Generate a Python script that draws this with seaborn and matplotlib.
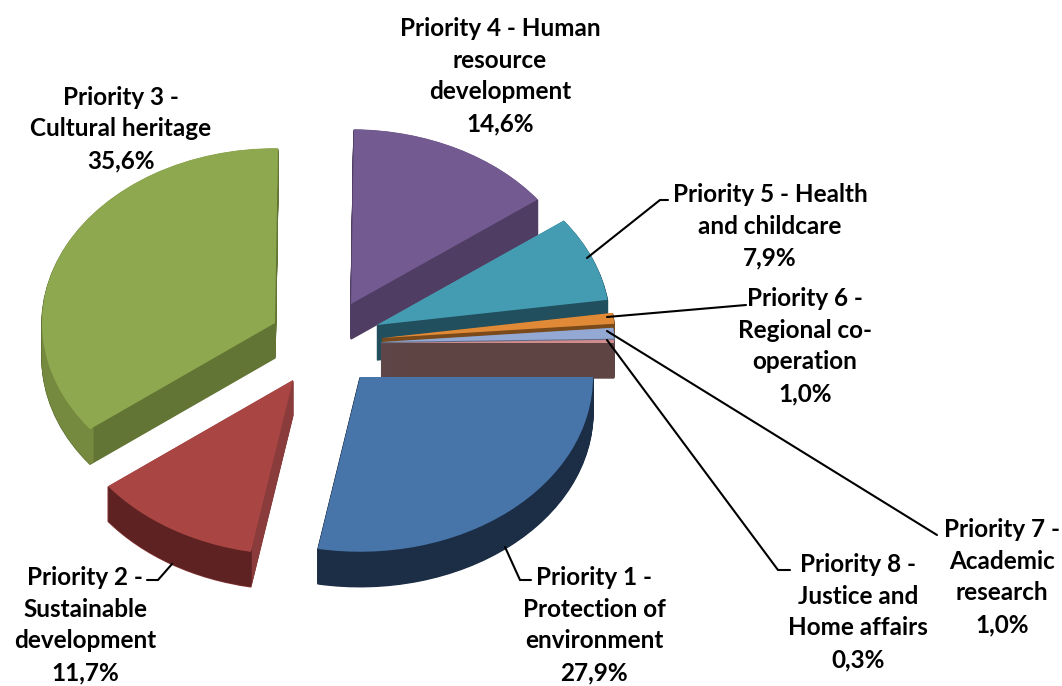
import matplotlib
matplotlib.use("Agg")
import matplotlib.pyplot as plt
import seaborn as sns

names = ["Priority 1 -\nProtection of\nenvironment", "Priority 2 -\nSustainable\ndevelopment",
         "Priority 3 -\nCultural heritage", "Priority 4 - Human\nresource\ndevelopment",
         "Priority 5 - Health\nand childcare", "Priority 6 -\nRegional co-\noperation",
         "Priority 7 -\nAcademic\nresearch", "Priority 8 -\nJustice and\nHome affairs"]
values = [27.9, 11.7, 35.6, 14.6, 7.9, 1.0, 1.0, 0.3]

top_colors = ["#4775a9", "#a94643", "#8ea84f", "#735a91", "#449cb3", "#e08a37", "#93a9d4", "#d08c8c"]
cut_colors = ["#1c2e46", "#8a3b3b", "#637534", "#4f3d63", "#214f5e", "#7a4a1a", "#5c6a88", "#5f4444"]
rim_colors = ["#1c2e46", "#5e2222", "#75893f", "#4f3d63", "#214f5e", "#7a4a1a", "#5c6a88", "#5f4444"]

# where each slice tip ends up on the canvas (pixels), excel pulled them apart by hand
tips = [(360, 377), (293, 380), (275, 323), (351, 304), (377, 325), (382, 338), (381, 342), (381, 343)]
paint_order = [7, 6, 5, 0, 1, 2, 3, 4]  # rank per slice, back slices first
label_pos = [(594, 625), (85, 625), (121, 129), (500, 76), (770, 226), (805, 346), (1002, 577), (858, 612)]
leaders = [[(505, 547), (520, 580), (531, 580)], [(172, 564), (158, 580), (147, 580)],
           [(587, 258), (660, 200), (668, 200)], [(607, 317), (746, 305)],
           [(607, 331), (937, 535)], [(607, 340), (778, 570), (790, 570)]]

W, H = 1062, 686
radius = 233
squash = 0.75
depth = 35

sns.set_style("white")
plt.rcParams["font.family"] = ["Lato", "DejaVu Sans"]

fig = plt.figure(figsize=(W / 100, H / 100), dpi=100)
ax = fig.add_axes([0, 0, 1, 1])


def to_data(px, py):
    return px, (H - py) / squash


def draw_layer(colors, drop, z_base, width=None, edge=0):
    props = {"linewidth": edge}
    if width:
        props["width"] = width
    wedges, _ = ax.pie(values, colors=colors, startangle=0, counterclock=False,
                       radius=radius, wedgeprops=props)
    for i, w in enumerate(wedges):
        w.set_center(to_data(tips[i][0], tips[i][1] + drop))
        w.set_zorder(paint_order[i] * 10 + z_base)
        if edge:
            w.set_edgecolor(colors[i])


for drop in range(depth, 0, -1):
    # thin outline stops the sliver slices from breaking up into stripes near the tip
    draw_layer(cut_colors, drop, 1, edge=1)
    draw_layer(rim_colors, drop, 2, width=5)
draw_layer(top_colors, 0, 3)

for pts in leaders:
    xs = [to_data(*p)[0] for p in pts]
    ys = [to_data(*p)[1] for p in pts]
    ax.plot(xs, ys, color="black", lw=1.5, zorder=200, solid_joinstyle="miter")

for name, v, (px, py) in zip(names, values, label_pos):
    txt = name + "\n" + f"{v:.1f}%".replace(".", ",")
    x, y = to_data(px, py)
    ax.text(x, y, txt, ha="center", va="center", fontsize=17.5, fontweight="bold",
            color="black", linespacing=1.47, zorder=300)

ax.set_aspect("auto")
ax.set_xlim(0, W)
ax.set_ylim(0, H / squash)
ax.axis("off")

fig.savefig("out.png", dpi=100, facecolor="white")
